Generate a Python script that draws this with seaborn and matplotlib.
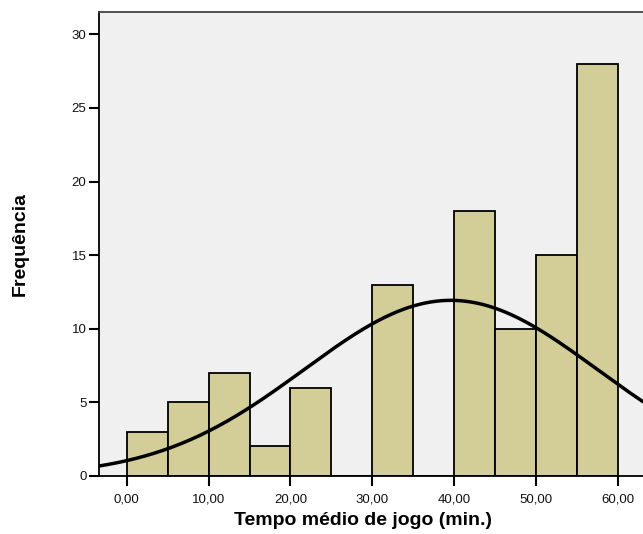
import numpy as np
import pandas as pd
import seaborn as sns
import matplotlib.pyplot as plt

# ================= DATA =================
bin_edges = [0, 5, 10, 15, 20, 25, 30, 35, 40, 45, 50, 55, 60]
counts = [3, 5, 7, 2, 6, 0, 13, 0, 18, 10, 15, 28]
x_ticks = [0, 10, 20, 30, 40, 50, 60]
x_ticklabels = ["0,00", "10,00", "20,00", "30,00", "40,00", "50,00", "60,00"]
y_ticks = [0, 5, 10, 15, 20, 25, 30]
mean_val = 39.6
sd_val = 17.9

centers = [(a + b) / 2 for a, b in zip(bin_edges[:-1], bin_edges[1:])]
df = pd.DataFrame({"tempo": centers, "n": counts})

# ================= STYLE =================
sns.set_style("white")
plt.rcParams["font.family"] = ["Liberation Sans", "DejaVu Sans"]

fig = plt.figure(figsize=(6.43, 5.34), dpi=100)
ax = fig.add_axes([0.154, 0.109, 0.846, 0.868])
ax.set_facecolor("#f0f0f0")

# ================= HISTOGRAM =================
sns.histplot(data=df, x="tempo", weights="n", bins=bin_edges,
             color="#d3ce98", edgecolor="black", linewidth=1.3,
             alpha=1, ax=ax)

# normal curve scaled to counts
n_total = sum(counts)
width = bin_edges[1] - bin_edges[0]
xs = np.linspace(-3.4, 63.1, 300)
ys = n_total * width / (sd_val * np.sqrt(2 * np.pi)) * np.exp(-0.5 * ((xs - mean_val) / sd_val) ** 2)
sns.lineplot(x=xs, y=ys, color="black", linewidth=2.5, ax=ax)

ax.set_xlim(-3.4, 63.1)
ax.set_ylim(0, 31.5)
ax.set_xticks(x_ticks)
ax.set_xticklabels(x_ticklabels)
ax.set_yticks(y_ticks)
ax.tick_params(axis="both", bottom=True, left=True, direction="out",
               length=7, width=1.5, color="black",
               labelsize=9.5, labelcolor="#111111", pad=2)
ax.tick_params(axis="x", pad=6)

for side in ["left", "bottom"]:
    ax.spines[side].set_color("black")
    ax.spines[side].set_linewidth(1.3)
ax.spines["top"].set_color("#444444")
ax.spines["top"].set_linewidth(1.3)
ax.spines["right"].set_visible(False)

ax.set_xlabel("Tempo médio de jogo (min.)", fontsize=14, fontweight="bold", color="black")
ax.set_ylabel("Frequência", fontsize=14, fontweight="bold", color="black")
ax.xaxis.set_label_coords(0.485, -0.078)
ax.yaxis.set_label_coords(-0.13, 0.5)

fig.savefig("out.png", dpi=100)
